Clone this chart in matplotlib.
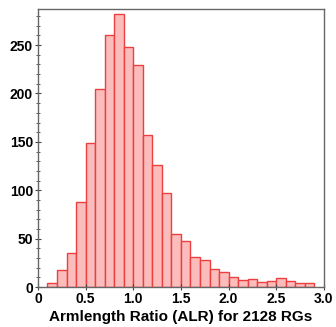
import numpy as np
import matplotlib.pyplot as plt

# histogram of armlength ratio, bins of 0.1 from 0.1 to 2.9
bin_start = 0.1
bin_width = 0.1
counts = [4, 18, 35, 88, 149, 205, 260, 282, 248, 229, 157, 126, 97, 55,
          48, 31, 28, 19, 15, 10, 7, 8, 5, 6, 9, 6, 4, 4]
x_ticks = [0, 0.5, 1.0, 1.5, 2.0, 2.5, 3.0]
x_ticklabels = ['0', '0.5', '1.0', '1.5', '2.0', '2.5', '3.0']
y_ticks = [0, 50, 100, 150, 200, 250]

plt.rcParams['font.family'] = ['Liberation Sans', 'DejaVu Sans']

fig = plt.figure(figsize=(3.36, 3.27), dpi=100)
ax = fig.add_axes([0.113, 0.1223, 0.851, 0.8493])

lefts = bin_start + bin_width * np.arange(len(counts))
ax.bar(lefts, counts, width=bin_width, align='edge',
       color='#fbbcbc', edgecolor='#ec4040', linewidth=1.0)

ax.set_xlim(0, 3.0)
ax.set_ylim(0, 287)
ax.set_xticks(x_ticks)
ax.set_xticklabels(x_ticklabels)
ax.set_yticks(y_ticks)
ax.set_yticks(np.arange(10, 287, 10), minor=True)

for s in ax.spines.values():
    s.set_color('#666666')
    s.set_linewidth(1.0)

ax.tick_params(axis='both', which='major', direction='inout', length=5,
               width=0.8, color='#444444', labelsize=10, pad=1)
ax.tick_params(axis='y', which='minor', direction='inout', length=3,
               width=0.6, color='#444444')
for lab in ax.get_xticklabels() + ax.get_yticklabels():
    lab.set_fontweight('bold')

ax.set_xlabel('Armlength Ratio (ALR) for 2128 RGs', fontsize=11,
              fontweight='bold', labelpad=3)

fig.savefig('out.png', dpi=100)
